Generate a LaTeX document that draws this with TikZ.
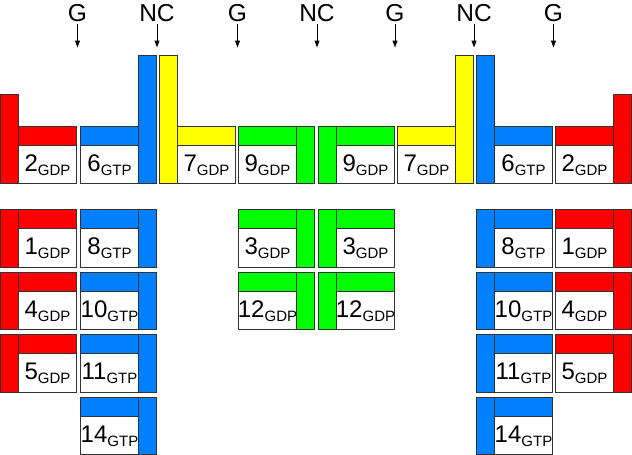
\documentclass[tikz,border=0pt]{standalone}
\usepackage{fontspec}
\setmainfont{Liberation Sans}
\usetikzlibrary{arrows.meta}
\definecolor{cred}{RGB}{255,0,0}
\definecolor{cblue}{RGB}{0,128,255}
\definecolor{cyel}{RGB}{255,255,0}
\definecolor{cgreen}{RGB}{0,255,0}
\definecolor{edge}{RGB}{50,50,50}
\newcommand\lab[2]{{\fontsize{24}{24}\selectfont #1}\raisebox{-4pt}{\fontsize{15}{15}\selectfont #2}}
% name, x, ytop, ybot, colour, label
\newcommand\gunit[6]{%
  \draw[box, fill=#5] (#2,#3) rectangle (#2+58,#3+19);
  \draw[box, fill=white] (#2,#3+19) rectangle (#2+58,#4);
  \node[lbl] (#1) at (#2+29,#4-12.5) {#6};
}
% colour, x, ytop, ybot
\newcommand\vbar[4]{%
  \draw[box, fill=#1] (#2,#3) rectangle (#2+18,#4);
}
% name, x, text
\newcommand\sig[3]{%
  \node[sigtxt] (#1) at (#2,20.7) {#3};
  \coordinate (#1e) at (#2,47);
  \draw[arr] (#1.south) -- (#1e);
}
\begin{document}
\begin{tikzpicture}[x=1pt,y=-1pt,
  box/.style={draw=edge, line width=1pt},
  lbl/.style={anchor=base, inner sep=0pt},
  sigtxt/.style={anchor=base, inner sep=0pt, font=\fontsize{24.5}{24.5}\selectfont},
  arr/.style={line width=1pt, shorten <=2.5pt, -{Triangle[width=5pt,length=7pt]}}]
\useasboundingbox (0,0) rectangle (632,455);
\begin{scope}[shift={(0.5,0.5)}]
% signals
\sig{s1}{77}{G}
\sig{s2}{156.5}{NC}
\sig{s3}{237}{G}
\sig{s4}{316.5}{NC}
\sig{s5}{394.5}{G}
\sig{s6}{473.5}{NC}
\sig{s7}{553}{G}
% top row
\vbar{cred}{0}{94}{183}
\gunit{t1}{18}{126}{183}{cred}{\lab{2}{GDP}}
\gunit{t2}{80}{126}{183}{cblue}{\lab{6}{GTP}}
\vbar{cblue}{138}{55}{183}
\vbar{cyel}{159}{55}{183}
\gunit{t3}{177}{126}{183}{cyel}{\lab{7}{GDP}}
\gunit{t4}{238}{126}{183}{cgreen}{\lab{9}{GDP}}
\vbar{cgreen}{296}{126}{183}
\vbar{cgreen}{318}{126}{183}
\gunit{t5}{336}{126}{183}{cgreen}{\lab{9}{GDP}}
\gunit{t6}{397}{126}{183}{cyel}{\lab{7}{GDP}}
\vbar{cyel}{455}{55}{183}
\vbar{cblue}{476}{55}{183}
\gunit{t7}{494}{126}{183}{cblue}{\lab{6}{GTP}}
\gunit{t8}{555}{126}{183}{cred}{\lab{2}{GDP}}
\vbar{cred}{613}{94}{183}
% lower rows
\foreach \ya/\yb/\r/\rl/\bl/\gl in {209/266.5/1/1/8/3, 271.5/329/2/4/10/12, 334/391.5/3/5/11/, 396.5/454/4//14/}{
  \ifx\rl\empty\else
    \vbar{cred}{0}{\ya}{\yb}
    \gunit{rl\r}{18}{\ya}{\yb}{cred}{\lab{\rl}{GDP}}
    \gunit{rr\r}{555}{\ya}{\yb}{cred}{\lab{\rl}{GDP}}
    \vbar{cred}{613}{\ya}{\yb}
  \fi
  \gunit{bl\r}{80}{\ya}{\yb}{cblue}{\lab{\bl}{GTP}}
  \vbar{cblue}{138}{\ya}{\yb}
  \vbar{cblue}{476}{\ya}{\yb}
  \gunit{br\r}{494}{\ya}{\yb}{cblue}{\lab{\bl}{GTP}}
  \ifx\gl\empty\else
    \gunit{gl\r}{238}{\ya}{\yb}{cgreen}{\lab{\gl}{GDP}}
    \vbar{cgreen}{296}{\ya}{\yb}
    \vbar{cgreen}{318}{\ya}{\yb}
    \gunit{gr\r}{336}{\ya}{\yb}{cgreen}{\lab{\gl}{GDP}}
  \fi
}
\end{scope}
\end{tikzpicture}
\end{document}
